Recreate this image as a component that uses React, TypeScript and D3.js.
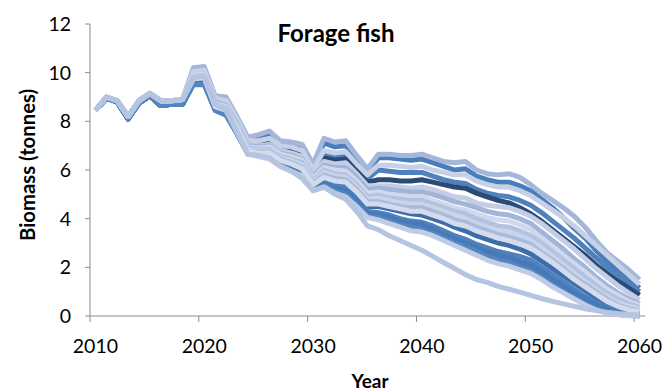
import React from 'react';
import * as d3 from 'd3';

// Categories (one per simulated year)
const years: number[] = d3.range(2010, 2061);
const xTickYears = [2010, 2020, 2030, 2040, 2050, 2060];
const yTicks = [0, 2, 4, 6, 8, 10, 12];

// Shared historical part 2010-2018 (runs coincide)
const historyLight = [8.45, 9.0, 8.85, 8.2, 8.85, 9.15, 8.85, 8.85, 8.9];
const historyDark = [8.45, 8.95, 8.8, 8.1, 8.75, 9.05, 8.65, 8.7, 8.7];

// Projections 2019-2060, one array per run
const run01 = [10.2, 10.25, 9.05, 9.0, 8.2, 7.35, 7.45, 7.6, 7.2, 7.15, 7.05, 6.25, 7.3, 7.15, 7.2, 6.6, 6.05, 6.65, 6.65, 6.6, 6.6, 6.65, 6.5, 6.35, 6.3, 6.35, 6.0, 5.85, 5.8, 5.85, 5.7, 5.4, 5.05, 4.75, 4.45, 4.1, 3.65, 3.1, 2.6, 2.25, 1.9, 1.5];
const run02 = [9.7, 9.7, 8.6, 8.45, 7.9, 7.3, 7.35, 7.45, 7.1, 7.05, 6.95, 6.15, 7.1, 6.95, 7.0, 6.45, 5.95, 6.5, 6.5, 6.45, 6.4, 6.45, 6.3, 6.15, 6.0, 6.05, 5.75, 5.6, 5.5, 5.5, 5.35, 5.15, 4.8, 4.45, 4.05, 3.6, 3.2, 2.7, 2.25, 1.85, 1.5, 1.15];
const run03 = [10.05, 10.1, 8.95, 8.85, 8.1, 7.2, 7.2, 7.3, 7.0, 6.95, 6.8, 6.0, 6.8, 6.7, 6.75, 6.25, 5.8, 6.2, 6.2, 6.15, 6.1, 6.15, 6.0, 5.9, 5.8, 5.8, 5.55, 5.4, 5.3, 5.3, 5.15, 4.95, 4.65, 4.35, 4.05, 3.7, 3.3, 2.9, 2.5, 2.1, 1.7, 1.3];
const run04 = [9.65, 9.65, 8.55, 8.4, 7.8, 7.15, 7.1, 7.2, 6.95, 6.9, 6.75, 5.95, 6.65, 6.55, 6.6, 6.1, 5.65, 6.0, 5.95, 5.9, 5.9, 5.9, 5.75, 5.6, 5.5, 5.45, 5.2, 5.05, 4.95, 4.9, 4.75, 4.55, 4.25, 3.9, 3.55, 3.2, 2.8, 2.4, 2.0, 1.7, 1.35, 1.0];
const run05 = [9.6, 9.6, 8.5, 8.35, 7.75, 7.1, 7.05, 7.1, 6.85, 6.8, 6.65, 5.9, 6.5, 6.4, 6.45, 6.0, 5.5, 5.6, 5.6, 5.55, 5.55, 5.6, 5.5, 5.4, 5.3, 5.25, 5.05, 4.9, 4.75, 4.65, 4.45, 4.2, 3.9, 3.55, 3.2, 2.85, 2.5, 2.1, 1.75, 1.45, 1.15, 0.86];
const run06 = [9.95, 10.0, 8.85, 8.7, 7.95, 7.05, 7.0, 7.05, 6.8, 6.7, 6.55, 5.8, 6.35, 6.25, 6.3, 5.85, 5.35, 5.35, 5.35, 5.3, 5.25, 5.3, 5.2, 5.05, 4.9, 4.85, 4.65, 4.55, 4.5, 4.45, 4.3, 4.1, 3.8, 3.45, 3.1, 2.75, 2.35, 1.95, 1.6, 1.25, 0.95, 0.66];
const run07 = [9.9, 9.95, 8.8, 8.65, 7.9, 7.0, 6.95, 7.0, 6.7, 6.6, 6.45, 5.7, 6.2, 6.1, 6.1, 5.7, 5.2, 5.25, 5.2, 5.15, 5.1, 5.1, 5.0, 4.85, 4.7, 4.6, 4.45, 4.3, 4.2, 4.15, 4.0, 3.8, 3.45, 3.1, 2.75, 2.35, 2.0, 1.6, 1.25, 0.95, 0.7, 0.5];
const run08 = [9.9, 9.95, 8.75, 8.6, 7.85, 6.95, 6.9, 6.95, 6.65, 6.55, 6.4, 5.65, 6.1, 6.0, 5.95, 5.55, 5.05, 5.1, 5.0, 4.95, 4.9, 4.9, 4.75, 4.6, 4.45, 4.35, 4.2, 4.05, 3.95, 3.9, 3.75, 3.55, 3.2, 2.85, 2.5, 2.15, 1.8, 1.45, 1.1, 0.85, 0.6, 0.45];
const run09 = [9.8, 9.85, 8.7, 8.55, 7.8, 6.9, 6.85, 6.85, 6.55, 6.45, 6.3, 5.55, 6.0, 5.85, 5.8, 5.4, 4.9, 4.95, 4.85, 4.8, 4.75, 4.75, 4.6, 4.45, 4.3, 4.2, 4.0, 3.85, 3.7, 3.65, 3.5, 3.3, 3.0, 2.65, 2.3, 1.95, 1.6, 1.25, 0.95, 0.7, 0.5, 0.35];
const run10 = [9.8, 9.85, 8.7, 8.5, 7.75, 6.85, 6.8, 6.8, 6.5, 6.4, 6.2, 5.5, 5.9, 5.75, 5.7, 5.3, 4.8, 4.85, 4.75, 4.65, 4.6, 4.6, 4.45, 4.3, 4.15, 4.0, 3.8, 3.65, 3.5, 3.45, 3.3, 3.1, 2.8, 2.45, 2.1, 1.75, 1.4, 1.1, 0.8, 0.55, 0.4, 0.3];
const run11 = [9.75, 9.8, 8.65, 8.5, 7.7, 6.8, 6.75, 6.75, 6.45, 6.3, 6.1, 5.45, 5.8, 5.65, 5.6, 5.2, 4.7, 4.7, 4.6, 4.5, 4.45, 4.45, 4.3, 4.15, 3.95, 3.85, 3.65, 3.5, 3.35, 3.25, 3.1, 2.95, 2.6, 2.3, 1.95, 1.6, 1.3, 1.0, 0.7, 0.45, 0.3, 0.2];
const run12 = [9.75, 9.8, 8.6, 8.45, 7.7, 6.8, 6.7, 6.7, 6.4, 6.25, 6.05, 5.4, 5.7, 5.55, 5.5, 5.1, 4.6, 4.6, 4.5, 4.4, 4.3, 4.3, 4.15, 4.0, 3.8, 3.7, 3.5, 3.35, 3.2, 3.1, 2.95, 2.8, 2.5, 2.2, 1.85, 1.5, 1.2, 0.9, 0.6, 0.4, 0.25, 0.18];
const run13 = [9.6, 9.6, 8.5, 8.35, 7.6, 6.75, 6.7, 6.65, 6.35, 6.2, 6.0, 5.35, 5.6, 5.45, 5.4, 5.0, 4.5, 4.5, 4.4, 4.3, 4.2, 4.15, 4.0, 3.85, 3.65, 3.5, 3.3, 3.15, 3.0, 2.9, 2.75, 2.55, 2.25, 1.95, 1.65, 1.35, 1.05, 0.75, 0.5, 0.3, 0.18, 0.1];
const run14 = [9.6, 9.6, 8.5, 8.3, 7.55, 6.7, 6.65, 6.6, 6.3, 6.1, 5.9, 5.3, 5.55, 5.35, 5.25, 4.85, 4.3, 4.25, 4.15, 4.0, 3.9, 3.85, 3.7, 3.5, 3.3, 3.15, 2.95, 2.8, 2.65, 2.55, 2.45, 2.3, 2.0, 1.7, 1.4, 1.1, 0.8, 0.55, 0.35, 0.2, 0.1, 0.05];
const run15 = [9.55, 9.55, 8.5, 8.3, 7.55, 6.7, 6.6, 6.55, 6.25, 6.05, 5.85, 5.2, 5.4, 5.2, 5.1, 4.7, 4.15, 4.1, 4.0, 3.85, 3.75, 3.7, 3.5, 3.3, 3.1, 2.95, 2.75, 2.6, 2.45, 2.3, 2.15, 2.0, 1.75, 1.45, 1.2, 0.95, 0.7, 0.5, 0.32, 0.2, 0.12, 0.08];
const run16 = [9.55, 9.55, 8.45, 8.3, 7.5, 6.7, 6.6, 6.55, 6.25, 6.05, 5.85, 5.25, 5.45, 5.25, 5.15, 4.75, 4.2, 4.15, 4.05, 3.9, 3.8, 3.75, 3.55, 3.35, 3.15, 3.0, 2.8, 2.65, 2.5, 2.4, 2.25, 2.1, 1.8, 1.5, 1.2, 0.9, 0.65, 0.45, 0.25, 0.12, 0.05, 0.03];
const run17 = [9.5, 9.5, 8.45, 8.25, 7.5, 6.65, 6.6, 6.5, 6.2, 6.0, 5.8, 5.2, 5.35, 5.15, 5.0, 4.6, 4.1, 4.05, 3.9, 3.75, 3.65, 3.55, 3.4, 3.2, 3.0, 2.85, 2.65, 2.45, 2.3, 2.2, 2.0, 1.85, 1.6, 1.3, 1.0, 0.75, 0.5, 0.3, 0.15, 0.06, 0.02, 0.0];
const run18 = [9.85, 9.9, 8.75, 8.5, 7.6, 6.65, 6.55, 6.45, 6.15, 5.95, 5.75, 5.15, 5.3, 5.05, 4.9, 4.5, 4.05, 3.95, 3.8, 3.65, 3.5, 3.45, 3.3, 3.1, 2.9, 2.7, 2.5, 2.3, 2.15, 2.05, 1.9, 1.75, 1.5, 1.2, 0.95, 0.7, 0.45, 0.25, 0.12, 0.05, 0.01, 0.0];
const run19 = [9.8, 9.85, 8.7, 8.45, 7.55, 6.65, 6.6, 6.5, 6.15, 5.95, 5.65, 5.15, 5.3, 5.0, 4.8, 4.3, 3.7, 3.55, 3.3, 3.1, 2.9, 2.7, 2.45, 2.2, 1.95, 1.7, 1.5, 1.38, 1.22, 1.1, 0.98, 0.85, 0.72, 0.6, 0.5, 0.4, 0.3, 0.22, 0.15, 0.1, 0.06, 0.03];

const runProjections = [run01, run02, run03, run04, run05, run06, run07, run08, run09, run10, run11, run12, run13, run14, run15, run16, run17, run18, run19];
const runIsDark = [false, true, false, true, true, false, false, false, false, false, false, false, true, true, true, true, true, false, false];

// styles (kept apart from data)
const runColors = ['#a4b7da', '#4a7ebb', '#c6d1e7', '#4f81bd', '#2b4b76', '#c3cee6', '#a2b5d9', '#d0d9ec', '#b2c2e0', '#c9d4e9', '#a9bbdc', '#d3dbed', '#3d6eac', '#4f81bd', '#4a7cb9', '#4579b7', '#5386c1', '#bfcce5', '#b4c4e1'];

const W = 669;
const H = 392;
const FONT = 'Lato, "Open Sans", sans-serif';

export default function App() {
  const x = d3.scaleBand<number>().domain(years).range([90, 645]).padding(0);
  const y = d3.scaleLinear().domain([0, 12]).range([316, 24]);
  const cx = (yr: number) => (x(yr) as number) + x.bandwidth() / 2;

  const line = d3
    .line<[number, number]>()
    .x((d) => cx(d[0]))
    .y((d) => y(d[1]))
    .curve(d3.curveLinear);

  const series = runProjections.map((proj, i) => {
    const hist = runIsDark[i] ? historyDark : historyLight;
    const vals = hist.concat(proj);
    return years.map((yr, j) => [yr, vals[j]] as [number, number]);
  });

  // dark runs underneath, light runs on top
  const rank = (i: number) => (runIsDark[i] ? 0 : 1);
  const order = d3.range(series.length).sort((a, b) => rank(a) - rank(b) || a - b);

  const axisColor = '#8c8c8c';

  return (
    <svg
      width={W}
      height={H}
      style={{ position: 'absolute', left: 0, top: 0, background: '#fff' }}
      fontFamily={FONT}
    >
      <rect x={0} y={0} width={W} height={H} fill="#fff" />
      {/* axes */}
      <line x1={90} x2={90} y1={y(12)} y2={y(0)} stroke={axisColor} strokeWidth={1} />
      {yTicks.map((t) => (
        <g key={'yt' + t}>
          <line x1={85} x2={90} y1={y(t)} y2={y(t)} stroke={axisColor} />
          <text x={71} y={y(t) + 7} textAnchor="end" fontSize={19.5} fill="#000">
            {t}
          </text>
        </g>
      ))}
      <line x1={90} x2={645} y1={y(0)} y2={y(0)} stroke={axisColor} strokeWidth={1} />
      {xTickYears.map((t) => (
        <g key={'xt' + t}>
          <line x1={x(t) as number} x2={x(t) as number} y1={y(0)} y2={y(0) + 6} stroke={axisColor} />
          <text x={cx(t)} y={353} textAnchor="middle" fontSize={19.5} fill="#000">
            {t}
          </text>
        </g>
      ))}
      {/* runs */}
      <g fill="none" strokeLinejoin="round" strokeLinecap="butt">
        {order.map((i) => (
          <path key={i} d={line(series[i]) || ''} stroke={runColors[i]} strokeWidth={5} />
        ))}
      </g>
      {/* titles */}
      <text x={336} y={42} textAnchor="middle" fontSize={24} fontWeight="bold" fill="#000">
        Forage fish
      </text>
      <text x={370} y={388} textAnchor="middle" fontSize={19} fontWeight="bold" fill="#000">
        Year
      </text>
      <text
        transform={`translate(35,165) rotate(-90)`}
        textAnchor="middle"
        fontSize={20}
        fontWeight="bold"
        fill="#000"
        textLength={152}
        lengthAdjust="spacingAndGlyphs"
      >
        Biomass (tonnes)
      </text>
    </svg>
  );
}
